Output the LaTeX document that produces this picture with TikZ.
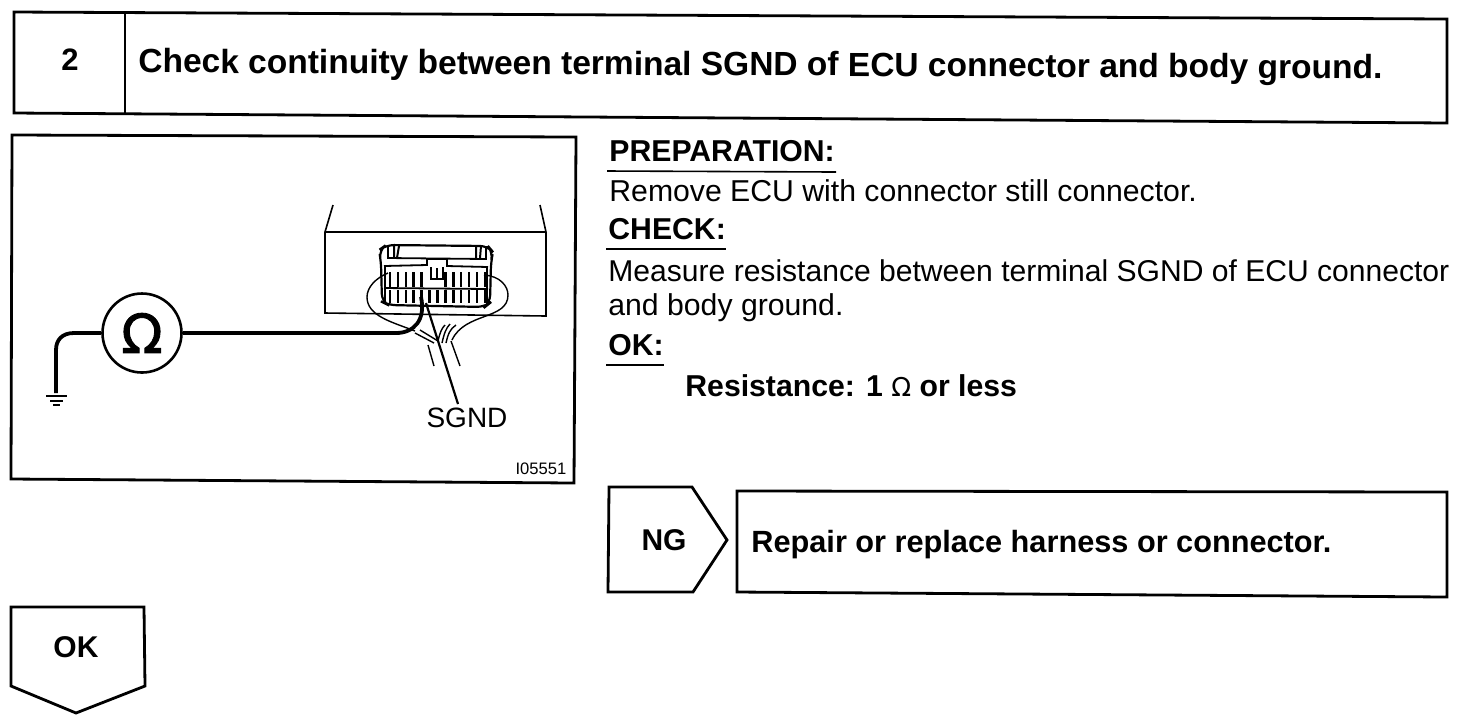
\documentclass[tikz,border=0pt]{standalone}
\usepackage{fontspec}
\setmainfont{Liberation Sans}
\newfontfamily\symfont{DejaVu Sans}
\newfontfamily\symheavy[FakeBold=1.6]{DejaVu Sans}
\tikzset{
 px/.style={x=0.5pt,y=-0.5pt},
 frame/.style={draw=black,line width=1.4pt,line join=miter},
 wire/.style={draw=black,line width=0.6pt},
 thick wire/.style={draw=black,line width=1.9pt},
 title/.style={anchor=west,inner sep=0pt,font=\fontsize{16.76}{18}\selectfont\bfseries},
 head/.style={anchor=west,inner sep=0pt,font=\fontsize{15.1}{16}\selectfont\bfseries},
 body/.style={anchor=west,inner sep=0pt,font=\fontsize{15.1}{16}\selectfont},
 tag/.style={anchor=center,inner sep=0pt,font=\fontsize{15}{17}\selectfont\bfseries},
}
\begin{document}
\begin{tikzpicture}[px]
\useasboundingbox (0,0) rectangle (1472,720);
% header
\draw[frame] (14,12) -- (1447,19) -- (1447,123) -- (14,113) -- cycle;
\draw[frame] (125,13) -- (125,114);
\node[tag,font=\fontsize{15.5}{17}\selectfont\bfseries] (num) at (70,60) {2};
\node[title,rotate=-0.28] (ttl) at (138,64) {Check continuity between terminal SGND of ECU connector and body ground.};
% illustration frame
\draw[frame] (12,135) -- (576,137) -- (574,483) -- (11,479) -- cycle;
% ECU body
\draw[wire,line width=0.8pt] (333,205) -- (325,232) -- (325,313) -- (546,316) -- (546,232) -- (540,205);
\draw[wire,line width=0.8pt] (325,232) -- (546,232);
% connector
\draw[wire,line width=1.1pt,rounded corners=4pt] (381,262) -- (379,250) -- (386,245) -- (488,246) -- (493,252) -- (491,262) -- (490,303) -- (485,307) -- (388,305) -- (382,302) -- cycle;
\draw[wire,line width=0.9pt] (384,266) -- (427,265) -- (427,259) -- (447,259) -- (447,266) -- (488,267);
\draw[wire,line width=0.9pt] (384,288) -- (488,289);
\draw[wire,line width=0.9pt] (385,266) -- (385,304) (487,266) -- (487,304);
\draw[wire,line width=0.9pt] (388,246) -- (388,258) -- (486,259) -- (486,246);
\foreach \i in {0,...,12}{
 \ifnum\i=5\else\ifnum\i=6\else
 \draw[wire,line width=1.3pt] ({390+\i*7.9},272) -- ({390+\i*7.9},287);
 \fi\fi
 \draw[wire,line width=1.3pt] ({390+\i*7.9},290) -- ({390+\i*7.9},303);
}
\draw[wire,line width=1.1pt] (431,267) -- (431,279) -- (443,279) -- (443,267) (437,268) -- (437,279);
\draw[wire,line width=1pt] (394,246) -- (394,258) (399,246) -- (397,258);
\draw[wire,line width=1pt] (476,246) -- (476,258) (481,246) -- (480,258);
% harness loops
\draw[wire,line width=0.7pt] (388,273) .. controls (376,278) and (367,287) .. (367,297) .. controls (367,316) and (392,322) .. (415,331);
\draw[wire,line width=0.7pt] (484,275) .. controls (500,276) and (508,286) .. (508,295) .. controls (508,320) and (465,312) .. (452,340);
\draw[wire,line width=0.7pt] (415,333) -- (434,343) (420,330) -- (438,341) (428,345) -- (434,366);
\draw[wire,line width=0.7pt] (438,341) .. controls (440,332) and (442,328) .. (445,325);
\draw[wire,line width=0.7pt] (442,343) .. controls (444,334) and (446,328) .. (450,324);
\draw[wire,line width=0.7pt] (446,343) .. controls (448,334) and (450,329) .. (456,325);
\draw[wire,line width=0.7pt] (451,341) -- (460,366);
% meter
\node[circle,draw=black,line width=1.3pt,minimum size=39.5pt,inner sep=0pt] (meter) at (142,333) {};
\node[inner sep=0pt,font=\fontsize{27}{29}\selectfont] (omega) at (142,333) {\symheavy Ω};
\coordinate (tip) at (421,297);
\coordinate (gnd) at (56,393);
\draw[thick wire] (meter.east) -- (396,333) .. controls (414,333) and (426,320) .. (tip);
\draw[thick wire] (meter.west) -- (74,333) .. controls (62,333) and (56,340) .. (56,350) -- (gnd);
\draw[wire,line width=1.2pt] (46,396) -- (67,396);
\draw[wire,line width=0.9pt] (50,401) -- (63,401);
\draw[wire,line width=0.9pt] (53,405) -- (60,405);
% SGND leader
\node[inner sep=0pt,font=\fontsize{14}{16}\selectfont] (sgnd) at (467,418) {SGND};
\coordinate (sg) at (426,303);
\draw[wire,line width=1.1pt] (sg) -- (458,404);
\node[inner sep=0pt,font=\fontsize{8.3}{10}\selectfont] (code) at (541,469) {I05551};
% text
\node[head] (prep) at (609,151) {PREPARATION:};
\draw[wire,line width=0.8pt] (607,171) -- (836,172);
\node[body] (l1) at (609,191) {Remove ECU with connector still connector.};
\node[head] (chk) at (608,229) {CHECK:};
\draw[wire,line width=0.8pt] (606,249) -- (726,249);
\node[body,font=\fontsize{15.04}{16}\selectfont] (l2) at (608,271) {Measure resistance between terminal SGND of ECU connector};
\node[body] (l3) at (608,308) {and body ground.};
\node[head] (okh) at (608,345) {OK:};
\draw[wire,line width=0.8pt] (606,365) -- (664,365);
\node[head] (res) at (685,386) {Resistance: 1 {\symfont\mdseries\fontsize{13}{15}\selectfont Ω} or less};
% NG
\draw[frame] (609,487) -- (692,487) -- (727,540) -- (693,592) -- (608,592) -- cycle;
\node[tag] (ng) at (664,540) {NG};
\draw[frame] (737,491) -- (1447,492) -- (1447,597) -- (737,592) -- cycle;
\node[head,font=\fontsize{15.35}{17}\selectfont\bfseries] (rep) at (751,545) {Repair or replace harness or connector.};
% OK
\draw[frame] (11,607) -- (144,607) -- (145,686) -- (76,713) -- (11,686) -- cycle;
\node[tag] (ok) at (76,647) {OK};
\end{tikzpicture}
\end{document}
